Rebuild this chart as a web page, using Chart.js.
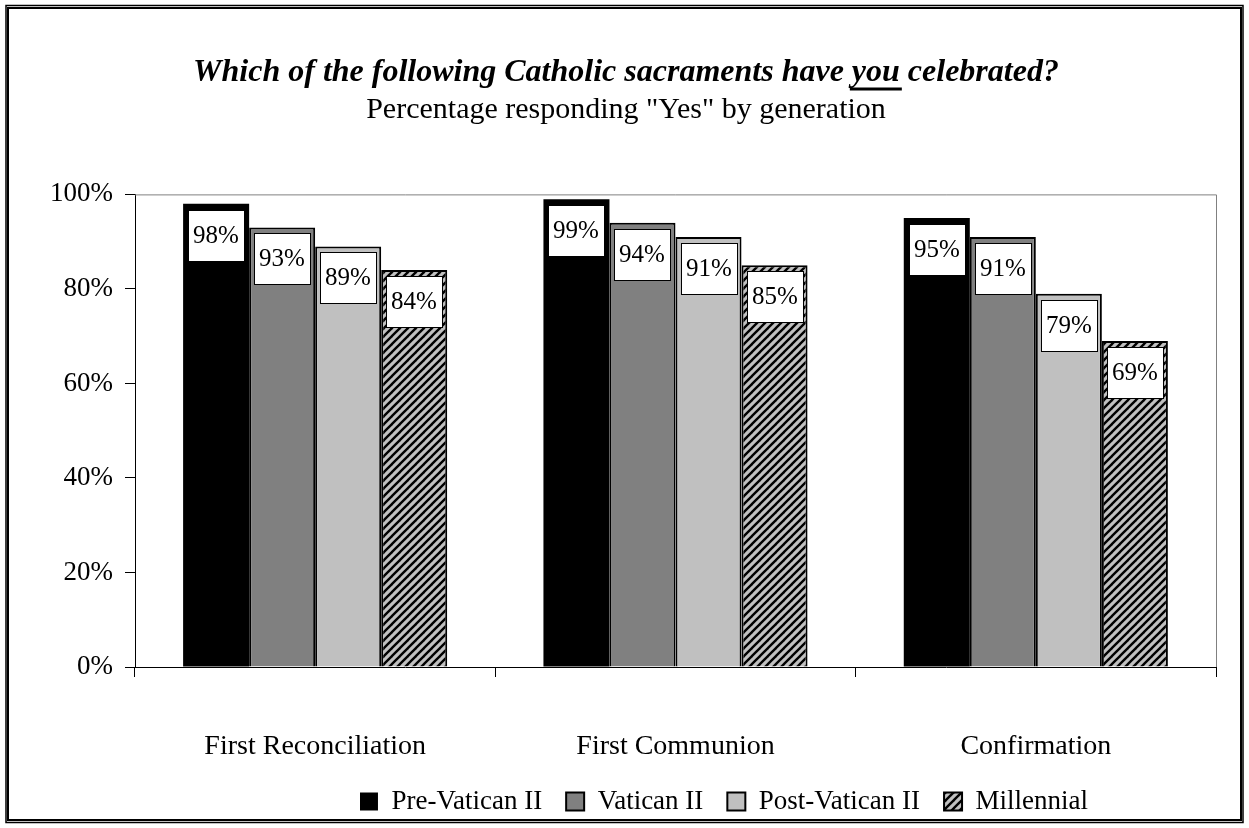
<!DOCTYPE html>
<html>
<head>
<meta charset="utf-8">
<script src="https://cdn.jsdelivr.net/npm/chart.js@4.4.1/dist/chart.umd.min.js"></script>
<style>
  html, body { margin: 0; padding: 0; background: #fff; }
  #wrap { position: relative; width: 1249px; height: 828px; }
</style>
</head>
<body>
<div id="wrap"><canvas id="sacramentChart" width="1249" height="828"></canvas></div>
<script>
// chart data
const categories = ["First Reconciliation", "First Communion", "Confirmation"];
const generations = ["Pre-Vatican II", "Vatican II", "Post-Vatican II", "Millennial"];
const preVatican = [0.98, 0.99, 0.95];
const vatican = [0.93, 0.94, 0.91];
const postVatican = [0.89, 0.91, 0.79];
const millennial = [0.84, 0.85, 0.69];
const yTicks = [0, 0.2, 0.4, 0.6, 0.8, 1.0];

const serif = "'Liberation Serif', 'Times New Roman', serif";

// diagonal hatch for the Millennial bars
function makeHatch() {
  const c = document.createElement("canvas");
  c.width = 8; c.height = 8;
  const g = c.getContext("2d");
  g.fillStyle = "#c0c0c0";
  g.fillRect(0, 0, 8, 8);
  g.strokeStyle = "#000";
  g.lineWidth = 2.4;
  [-8, 0, 8].forEach(o => {
    g.beginPath();
    g.moveTo(o - 1, 9);
    g.lineTo(o + 9, -1);
    g.stroke();
  });
  return g.createPattern(c, "repeat");
}
const hatch = makeHatch();

// white value boxes inside the top of each bar
const valueBoxes = {
  id: "valueBoxes",
  afterDatasetsDraw(chart) {
    const ctx = chart.ctx;
    ctx.save();
    chart.data.datasets.forEach((ds, i) => {
      chart.getDatasetMeta(i).data.forEach((bar, j) => {
        const left = Math.round(bar.x - bar.width / 2 + 5);
        const w = Math.round(bar.width - 10);
        const top = Math.round(bar.y + 6);
        const h = 51;
        ctx.fillStyle = "#fff";
        ctx.fillRect(left, top, w, h);
        ctx.strokeStyle = "#000";
        ctx.lineWidth = 1;
        ctx.strokeRect(left + 0.5, top + 0.5, w, h);
        ctx.fillStyle = "#000";
        ctx.font = "25px " + serif;
        ctx.textAlign = "center";
        ctx.textBaseline = "middle";
        ctx.fillText(Math.round(ds.data[j] * 100) + "%", left + w / 2, top + h / 2 + 1);
      });
    });
    ctx.restore();
  }
};

// plot frame (top/right grey), outer border and underline of "you"
const decorations = {
  id: "decorations",
  beforeDatasetsDraw(chart) {
    const a = chart.chartArea;
    const ctx = chart.ctx;
    ctx.save();
    ctx.strokeStyle = "#808080";
    ctx.lineWidth = 1;
    ctx.beginPath();
    ctx.moveTo(a.left, a.top + 0.5);
    ctx.lineTo(a.right + 0.5, a.top + 0.5);
    ctx.lineTo(a.right + 0.5, a.bottom);
    ctx.stroke();
    ctx.restore();
  },
  afterDraw(chart) {
    const ctx = chart.ctx;
    ctx.save();
    ctx.strokeStyle = "#000";
    ctx.lineWidth = 1.5;
    ctx.strokeRect(6, 5.5, 1237, 817);
    ctx.lineWidth = 2;
    ctx.strokeRect(8, 8, 1233, 812);
    // underline "you" in the title
    const t = chart.titleBlock;
    const text = chart.options.plugins.title.text;
    ctx.font = "bold italic 32px " + serif;
    const full = ctx.measureText(text).width;
    const before = ctx.measureText(text.slice(0, text.indexOf("you"))).width;
    const yw = ctx.measureText("you").width;
    const cx = (t.left + t.right) / 2;
    const x0 = cx - full / 2 + before;
    ctx.lineWidth = 3;
    ctx.beginPath();
    ctx.moveTo(x0 - 2, 89);
    ctx.lineTo(x0 + yw + 2, 89);
    ctx.stroke();
    ctx.restore();
  }
};

Chart.defaults.font.family = serif;
Chart.defaults.color = "#000";

const ctx = document.getElementById("sacramentChart").getContext("2d");
const chart = new Chart(ctx, {
  type: "bar",
  data: {
    labels: categories,
    datasets: [
      { label: generations[0], data: preVatican, backgroundColor: "#000000", borderColor: "#000", borderWidth: 0 },
      { label: generations[1], data: vatican, backgroundColor: "#808080", borderColor: "#000", borderWidth: 2 },
      { label: generations[2], data: postVatican, backgroundColor: "#c0c0c0", borderColor: "#000", borderWidth: 2 },
      { label: generations[3], data: millennial, backgroundColor: hatch, borderColor: "#000", borderWidth: 2 }
    ]
  },
  options: {
    responsive: false,
    animation: false,
    layout: { padding: { left: 18, right: 15, top: 0, bottom: 3 } },
    datasets: { bar: { categoryPercentage: 0.733, barPercentage: 1.0, borderSkipped: "bottom" } },
    scales: {
      x: {
        grid: { drawOnChartArea: false, tickLength: 10, color: "#000", offset: true },
        border: { color: "#000", width: 1 },
        ticks: { font: { size: 28 }, padding: 53, color: "#000" },
        afterFit: s => { s.height = 97; }
      },
      y: {
        min: 0, max: 1,
        afterBuildTicks: s => { s.ticks = yTicks.map(v => ({ value: v })); },
        grid: { drawOnChartArea: false, tickLength: 10, color: "#000" },
        border: { color: "#000", width: 1 },
        ticks: { font: { size: 27 }, padding: 12, color: "#000", callback: v => Math.round(v * 100) + "%" },
        afterFit: s => { s.width = 117; }
      },
      y2: {
        position: "right",
        grid: { display: false },
        border: { display: false },
        ticks: { display: false },
        afterFit: s => { s.width = 18; }
      }
    },
    plugins: {
      title: {
        display: true,
        text: "Which of the following Catholic sacraments have you celebrated?",
        font: { size: 32, style: "italic", weight: "bold" },
        color: "#000",
        padding: { top: 54, bottom: 0 }
      },
      subtitle: {
        display: true,
        text: 'Percentage responding "Yes" by generation',
        font: { size: 30 },
        color: "#000",
        padding: { top: 0, bottom: 66 }
      },
      legend: {
        position: "bottom",
        labels: { boxWidth: 18, boxHeight: 18, padding: 24, font: { size: 27 }, color: "#000" }
      },
      tooltip: { enabled: false }
    }
  },
  plugins: [valueBoxes, decorations]
});

// the legend sits right of centre in the original
const legendBox = chart.legend;
const legendDraw = legendBox.draw.bind(legendBox);
legendBox.draw = function (area) {
  chart.ctx.save();
  chart.ctx.translate(98, 0);
  legendDraw(area);
  chart.ctx.restore();
};
chart.draw();
</script>
</body>
</html>
